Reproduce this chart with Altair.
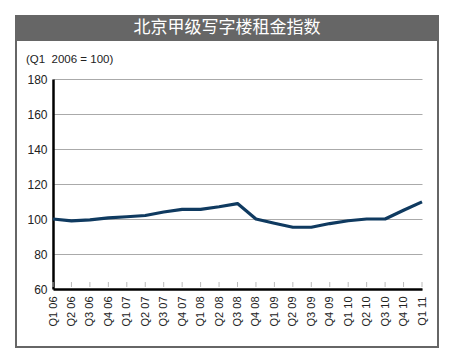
import altair as alt
import pandas as pd

quarters = ["Q1 06", "Q2 06", "Q3 06", "Q4 06", "Q1 07", "Q2 07", "Q3 07", "Q4 07",
            "Q1 08", "Q2 08", "Q3 08", "Q4 08", "Q1 09", "Q2 09", "Q3 09", "Q4 09",
            "Q1 10", "Q2 10", "Q3 10", "Q4 10", "Q1 11"]
values = [100, 98.9, 99.5, 100.6, 101.3, 102, 104, 105.5,
          105.5, 107, 108.8, 100, 97.6, 95.3, 95.3, 97.4,
          99, 100, 100, 105, 109.8]
y_ticks = [60, 80, 100, 120, 140, 160, 180]
title_text = "北京甲级写字楼租金指数"
subtitle_text = "(Q1\u00a0\u00a02006 = 100)"

df = pd.DataFrame({"q": quarters, "v": values})
one = pd.DataFrame({"a": [0]})

W, H = 369, 210
FONT = "Liberation Sans"

x_enc = alt.X("q:N", sort=quarters, scale=alt.Scale(type="point", padding=0),
              axis=alt.Axis(title=None, labelAngle=270, ticks=False, domainColor="black",
                            domainWidth=2.5, labelFontSize=11, labelFont=FONT,
                            labelColor="#222222", labelPadding=7, grid=False, zindex=1))

frame = alt.Chart(one).mark_rect(fillOpacity=0, stroke="#666666", strokeWidth=2).encode(
    x=alt.value(-37), x2=alt.value(385), y=alt.value(-63), y2=alt.value(268))
bar = alt.Chart(one).mark_rect(fill="#666666").encode(
    x=alt.value(-38), x2=alt.value(386), y=alt.value(-64), y2=alt.value(-38))
title = alt.Chart(one).mark_text(color="white", fontSize=17, font="Noto Sans CJK SC",
                                  align="center", baseline="middle").encode(
    x=alt.value(174), y=alt.value(-51), text=alt.value(title_text))
subtitle = alt.Chart(one).mark_text(color="#222222", fontSize=11.5, font=FONT,
                                     align="left", baseline="middle").encode(
    x=alt.value(-27), y=alt.value(-19), text=alt.value(subtitle_text))

tick_rules = alt.Chart(df).mark_rule(color="#bbbbbb", strokeWidth=1).encode(
    x=x_enc, y=alt.value(203), y2=alt.value(208))

line = alt.Chart(df).mark_line(color="#0f3a60", strokeWidth=3.2, strokeJoin="round").encode(
    x=x_enc,
    y=alt.Y("v:Q", scale=alt.Scale(domain=[60, 180], nice=False, zero=False),
            axis=alt.Axis(title=None, values=y_ticks, ticks=False, domainColor="black",
                          domainWidth=2.5, gridColor="#aaaaaa", gridWidth=1,
                          labelFontSize=12, labelFont=FONT, labelColor="#222222",
                          labelPadding=6)),
)

chart = alt.layer(frame, bar, title, subtitle, tick_rules, line).properties(
    width=W, height=H,
    autosize=alt.AutoSizeParams(type="none"),
    padding={"left": 45, "top": 71, "right": 25, "bottom": 66},
    background="white",
).configure_view(stroke=None)

chart.save("out.html", embed_options={"renderer": "svg", "actions": False})
